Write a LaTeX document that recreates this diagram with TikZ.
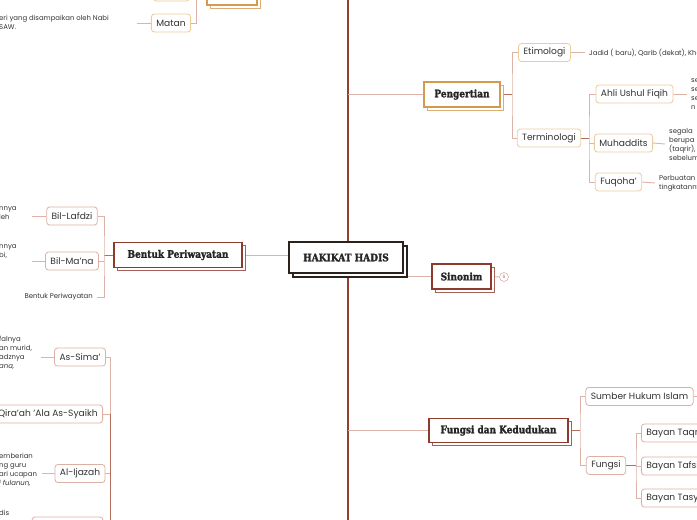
\documentclass[tikz,border=0pt]{standalone}
\usepackage{fontspec}
\setmainfont{Poppins}
\newfontfamily\slab{DejaVu Serif}[FakeStretch=0.86, BoldFeatures={FakeBold=1.6}]
\usetikzlibrary{shadows,backgrounds}
\definecolor{trunkc}{HTML}{94402F}
\definecolor{midc}{HTML}{B36E5E}
\definecolor{lightc}{HTML}{DDB2A9}
\definecolor{brownb}{HTML}{8E3A2C}
\definecolor{goldb}{HTML}{D39A50}
\definecolor{darkb}{HTML}{2A221B}
\definecolor{orl}{HTML}{ECCB9C}
\definecolor{pinkl}{HTML}{DDB0A6}
\definecolor{txt}{HTML}{333333}
\begin{document}
\begin{tikzpicture}[x=1pt,y=-1pt,
  mainbox/.style={draw=#1, line width=1.3pt, fill=white, text=black!85,
    font=\slab\bfseries\fontsize{10.4}{12}\selectfont, inner sep=0pt,
    copy shadow={shadow xshift=3pt, shadow yshift=-3pt, draw=#1!80, fill=white, line width=1pt}},
  centralbox/.style={draw=darkb, line width=2pt, fill=white, text=black!85,
    font=\slab\bfseries\fontsize{10.5}{12}\selectfont, inner sep=0pt,
    copy shadow={shadow xshift=4pt, shadow yshift=-4pt, draw=darkb, fill=white, line width=1.6pt}},
  subbox/.style={draw=#1, line width=0.8pt, rounded corners=3pt, fill=white, text=txt,
    font=\fontsize{9.1}{10}\selectfont, inner xsep=5pt, inner ysep=0pt, minimum height=18pt},
  side/.style={text=txt, font=\fontsize{6.9}{9}\selectfont, inner xsep=4pt, inner ysep=0pt},
  trunk/.style={draw=trunkc, line width=1.8pt},
  mconn/.style={draw=midc, line width=1pt},
  lconn/.style={draw=lightc, line width=0.9pt}
]
\useasboundingbox (0,0) rectangle (697,520);
\clip (0,0) rectangle (697,520);

% ---------- main nodes
\node[centralbox, minimum width=114pt, minimum height=31pt] (hak) at (346,257.5) {HAKIKAT HADIS};
\node[mainbox=goldb, minimum width=76pt, minimum height=25pt] (peng) at (462,94.5) {Pengertian};
\node[mainbox=brownb, minimum width=59pt, minimum height=25pt] (sin) at (461.5,276.5) {Sinonim};
\node[mainbox=brownb, minimum width=128pt, minimum height=25pt] (bp) at (178,255) {Bentuk Periwayatan};
\node[mainbox=brownb, minimum width=139pt, minimum height=24pt] (fdk) at (498.5,430.5) {Fungsi dan Kedudukan};
\node[mainbox=goldb, minimum width=50pt, minimum height=26pt] (unsur) at (232,-8) {};

% ---------- sub nodes
\node[subbox=orl, minimum width=36pt] (sanad) at (171.5,-8) {};
\node[subbox=orl, minimum width=36pt] (matan) at (171,23) {Matan};
\node[subbox=orl, minimum width=49pt] (eti) at (544.5,52.5) {Etimologi};
\node[subbox=orl, minimum width=60pt] (ter) at (549,138) {Terminologi};
\node[subbox=orl, minimum width=75pt] (ahli) at (634.5,94) {Ahli Ushul Fiqih};
\node[subbox=orl, minimum width=53pt] (muh) at (623.5,143) {Muhaddits};
\node[subbox=orl, minimum width=43pt] (fuq) at (618.5,182) {Fuqoha'};
\node[subbox=pinkl, minimum width=50pt] (lafdzi) at (72,216) {Bil-Lafdzi};
\node[subbox=pinkl, minimum width=50pt] (mana) at (72,261) {Bil-Ma'na};
\node[subbox=pinkl, minimum width=46pt] (sima) at (80,357) {As-Sima'};
\node[subbox=pinkl, anchor=east] (qiraah) at (103,414) {Al-Qira'ah 'Ala As-Syaikh};
\node[subbox=pinkl, minimum width=46pt] (ijazah) at (80,473.5) {Al-Ijazah};
\node[subbox=pinkl, minimum width=71pt] (bot) at (67.5,526) {};
\node[subbox=pinkl, minimum width=105pt] (shi) at (639.5,396.5) {Sumber Hukum Islam};
\node[subbox=pinkl, minimum width=38pt] (fungsi) at (606,465.5) {Fungsi};
\node[subbox=pinkl, anchor=west] (taqrir) at (641,433) {Bayan Taqrir};
\node[subbox=pinkl, anchor=west] (tafsir) at (641,466) {Bayan Tafsir};
\node[subbox=pinkl, anchor=west] (tasyri) at (641,498) {Bayan Tasyri'};

% ---------- side texts
\node[side, anchor=west] (etitx) at (585,52.5) {Jadid ( baru), Qarib (dekat), Khabar (berita)};
\node[side, anchor=west, align=left] (ahlitx) at (687,94) {se\\se\\se\\n};
\node[side, anchor=west, align=left] (muhtx) at (665,144) {segala\\berupa\\(taqrir),\\sebelum};
\node[side, anchor=west, align=left] (fuqtx) at (655,183) {Perbuatan\\tingkatannya};
\node[side, anchor=west, align=left] (matantx) at (-5,22) {eri yang disampaikan oleh Nabi\\SAW.};
\node[side, anchor=east] (bptx) at (97,297) {Bentuk Periwayatan};
\node[side, anchor=west, align=left] (lafdzitx) at (-5,213) {nnya\\leh};
\node[side, anchor=west, align=left] (manatx) at (-5,252) {nnya\\bi,};
\node[side, anchor=west, align=left] (simatx) at (-5,353) {falnya\\an murid,\\adznya\\\textit{ana,}};
\node[side, anchor=west, align=left] (ijazahtx) at (-5,469.5) {emberian\\ng guru\\ari ucapan\\\textit{i fulanun,}};
\node[side, anchor=west] (bottx) at (-5,513) {dis};
\node[circle, draw=pinkl, line width=0.6pt, fill=white, minimum size=9pt, inner sep=0pt,
  font=\fontsize{4.5}{5}\selectfont, text=gray] (six) at (504,277) {6};

% ---------- coordinates
\coordinate (ttop) at (348,-20);
\coordinate (tbot) at (348,540);
\coordinate (jp) at (512,94.5);
\coordinate (jt) at (589,138);
\coordinate (jm) at (196,-8);
\coordinate (matanend) at (137,23);
\coordinate (jb) at (104,255);
\coordinate (lafdziend) at (32,216);
\coordinate (manaend) at (32,261);
\coordinate (jltop) at (110,357);
\coordinate (jlbot) at (110,540);
\coordinate (simaend) at (41,357);
\coordinate (ijazahend) at (42,473.5);
\coordinate (jf) at (580,430.5);
\coordinate (shiend) at (710,396.5);
\coordinate (jg) at (636,465.5);

\begin{scope}[on background layer]
\draw[trunk] (ttop) -- (tbot);
\draw[lconn] (peng.west) -- (peng.west -| ttop);
\draw[lconn] (sin.west) -- (sin.west -| ttop);
\draw[lconn] (fdk.west) -- (fdk.west -| ttop);
\draw[lconn] (bp.east) -- (bp.east -| hak.west);
% Pengertian
\draw[mconn] (peng.east) -- (jp);
\draw[lconn] (eti.west) -| (jp) |- (ter.west);
\draw[lconn] (eti.east) -- (etitx.west);
\draw[mconn] (ter.east) -- (jt);
\draw[lconn] (ahli.west) -| (jt) |- (fuq.west);
\draw[lconn] (muh.west) -- (muh.west -| jt);
\draw[lconn] (ahli.east) -- (ahlitx.west);
\draw[lconn] (muh.east) -- (muhtx.west);
\draw[lconn] (fuq.east) -- (fuqtx.west);
% Sinonim
\draw[lconn] (sin.east) -- (six.west);
% Matan
\draw[lconn] (matan.east) -| (jm);
\draw[lconn] (sanad.east) -- (jm);
\draw[lconn] (matan.west) -- (matanend);
% Bentuk Periwayatan
\draw[mconn] (bp.west) -- (jb);
\draw[lconn] (lafdzi.east) -| (jb) |- (bptx.east);
\draw[lconn] (mana.east) -- (mana.east -| jb);
\draw[lconn] (lafdzi.west) -- (lafdziend);
\draw[lconn] (mana.west) -- (manaend);
% lower left
\draw[lconn] (sima.east) -- (jltop) -- (qiraah.east -| jltop);
\draw[mconn] (qiraah.east -| jltop) -- (jlbot);
\draw[lconn] (qiraah.east) -- (qiraah.east -| jltop);
\draw[lconn] (ijazah.east) -- (ijazah.east -| jltop);
\draw[lconn] (bot.east) -- (bot.east -| jltop);
\draw[lconn] (sima.west) -- (simaend);
\draw[lconn] (ijazah.west) -- (ijazahend);
% Fungsi dan Kedudukan
\draw[mconn] (fdk.east) -- (jf);
\draw[lconn] (shi.west) -| (jf) |- (fungsi.west);
\draw[lconn] (shi.east) -- (shiend);
\draw[mconn] (fungsi.east) -- (jg);
\draw[lconn] (taqrir.west) -| (jg) |- (tasyri.west);
\draw[lconn] (tafsir.west) -- (tafsir.west -| jg);
\end{scope}
\end{tikzpicture}
\end{document}
